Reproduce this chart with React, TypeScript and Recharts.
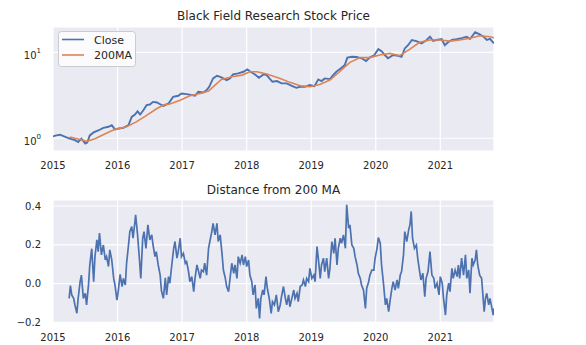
import { CartesianGrid, Line, LineChart, XAxis, YAxis } from "recharts";

const yearTicks = [2015, 2016, 2017, 2018, 2019, 2020, 2021];
const priceTicks = [1, 10];
const distTicks = [-0.2, 0, 0.2, 0.4];

const closeYears = [
  2015.0, 2015.05, 2015.11, 2015.19, 2015.26, 2015.34, 2015.39, 2015.44, 2015.5, 2015.53,
  2015.57, 2015.63, 2015.71, 2015.78, 2015.86, 2015.91, 2015.96, 2016.02, 2016.09, 2016.17,
  2016.22, 2016.27, 2016.31, 2016.35, 2016.4, 2016.45, 2016.5, 2016.55, 2016.61, 2016.66,
  2016.71, 2016.79, 2016.86, 2016.94, 2016.99, 2017.07, 2017.15, 2017.2, 2017.25, 2017.33,
  2017.38, 2017.42, 2017.48, 2017.54, 2017.59, 2017.64, 2017.69, 2017.74, 2017.79, 2017.87,
  2017.95, 2018.01, 2018.06, 2018.13, 2018.19, 2018.26, 2018.31, 2018.36, 2018.4, 2018.47,
  2018.54, 2018.62, 2018.7, 2018.77, 2018.83, 2018.9, 2018.98, 2019.05, 2019.11, 2019.16,
  2019.21, 2019.29, 2019.34, 2019.39, 2019.47, 2019.52, 2019.56, 2019.63, 2019.7, 2019.78,
  2019.85, 2019.91, 2019.97, 2020.04, 2020.09, 2020.14, 2020.19, 2020.27, 2020.35, 2020.4,
  2020.45, 2020.5, 2020.56, 2020.63, 2020.71, 2020.79, 2020.84, 2020.89, 2020.94, 2021.02,
  2021.07, 2021.12, 2021.18, 2021.25, 2021.33, 2021.41, 2021.46, 2021.54, 2021.61, 2021.67,
  2021.72, 2021.77, 2021.83,
];
const closeValues = [
  1.05, 1.08, 1.1, 1.035, 0.99, 0.95, 0.905, 0.99, 0.87, 0.89,
  1.08, 1.17, 1.24, 1.32, 1.36, 1.42, 1.27, 1.3, 1.32, 1.42,
  1.77, 1.89, 2.06, 1.89, 2.12, 2.43, 2.47, 2.65, 2.61, 2.49,
  2.38, 2.54, 3.03, 3.12, 3.32, 3.26, 3.18, 3.12, 3.47, 3.41,
  3.63, 3.97, 4.97, 5.33, 5.19, 4.97, 4.75, 4.97, 5.53, 5.69,
  5.94, 6.32, 5.94, 5.53, 5.05, 5.53, 5.43, 4.9, 4.54, 4.63,
  4.35, 4.35, 4.08, 3.86, 3.97, 3.97, 4.16, 4.04, 4.84, 4.63,
  4.97, 4.88, 5.43, 5.94, 6.62, 7.1, 8.67, 8.88, 8.81, 8.52,
  7.92, 8.74, 9.12, 10.9, 10.3, 9.3, 8.52, 9.3, 9.12, 8.88,
  11.1, 12.1, 13.9, 13.5, 12.7, 13.9, 15.2, 13.6, 13.9, 14.3,
  12.1, 13.1, 13.9, 14.2, 14.6, 15.2, 14.3, 17.1, 16.2, 15.2,
  13.9, 14.3, 12.7,
];

const maYears = [
  2015.26, 2015.34, 2015.42, 2015.52, 2015.65, 2015.81, 2015.96, 2016.14, 2016.29, 2016.45,
  2016.61, 2016.72, 2016.81, 2016.97, 2017.12, 2017.28, 2017.41, 2017.51, 2017.61, 2017.77,
  2017.93, 2018.05, 2018.16, 2018.31, 2018.44, 2018.52, 2018.67, 2018.83, 2018.98, 2019.13,
  2019.29, 2019.44, 2019.6, 2019.76, 2019.91, 2020.06, 2020.22, 2020.37, 2020.53, 2020.68,
  2020.84, 2020.99, 2021.15, 2021.3, 2021.46, 2021.61, 2021.77, 2021.83,
];
const maValues = [
  1.035, 1.0, 0.97, 0.92, 0.99, 1.13, 1.27, 1.36, 1.55, 1.85,
  2.22, 2.45, 2.5, 2.77, 3.12, 3.32, 3.54, 4.16, 4.84, 5.19,
  5.43, 5.94, 5.94, 5.6, 5.19, 4.97, 4.47, 4.08, 3.97, 4.23,
  4.75, 5.94, 7.64, 8.67, 8.67, 9.3, 9.72, 9.12, 10.9, 13.1,
  13.9, 13.9, 13.5, 13.9, 14.6, 15.6, 15.2, 14.8,
];

const distYears = [
  2015.25, 2015.27, 2015.29, 2015.32, 2015.34, 2015.37, 2015.39, 2015.42, 2015.44, 2015.47,
  2015.5, 2015.52, 2015.55, 2015.57, 2015.6, 2015.63, 2015.65, 2015.68, 2015.7, 2015.72,
  2015.75, 2015.78, 2015.81, 2015.83, 2015.86, 2015.88, 2015.91, 2015.94, 2015.96, 2015.99,
  2016.01, 2016.04, 2016.07, 2016.09, 2016.12, 2016.14, 2016.17, 2016.19, 2016.22, 2016.24,
  2016.27, 2016.28, 2016.31, 2016.34, 2016.36, 2016.39, 2016.41, 2016.44, 2016.47, 2016.5,
  2016.53, 2016.55, 2016.58, 2016.6, 2016.63, 2016.66, 2016.68, 2016.71, 2016.74, 2016.76,
  2016.79, 2016.81, 2016.84, 2016.87, 2016.89, 2016.92, 2016.94, 2016.97, 2016.99, 2017.02,
  2017.05, 2017.07, 2017.1, 2017.12, 2017.15, 2017.18, 2017.2, 2017.23, 2017.25, 2017.28,
  2017.3, 2017.33, 2017.35, 2017.38, 2017.41, 2017.43, 2017.46, 2017.48, 2017.51, 2017.54,
  2017.56, 2017.59, 2017.62, 2017.64, 2017.67, 2017.69, 2017.72, 2017.74, 2017.77, 2017.8,
  2017.82, 2017.85, 2017.87, 2017.9, 2017.93, 2017.95, 2017.98, 2018.0, 2018.03, 2018.05,
  2018.08, 2018.1, 2018.13, 2018.15, 2018.18, 2018.2, 2018.22, 2018.25, 2018.27, 2018.3,
  2018.32, 2018.35, 2018.38, 2018.4, 2018.43, 2018.46, 2018.49, 2018.52, 2018.54, 2018.57,
  2018.6, 2018.62, 2018.65, 2018.67, 2018.7, 2018.73, 2018.75, 2018.78, 2018.8, 2018.83,
  2018.86, 2018.88, 2018.91, 2018.93, 2018.96, 2018.98, 2019.01, 2019.04, 2019.06, 2019.09,
  2019.11, 2019.14, 2019.16, 2019.19, 2019.21, 2019.24, 2019.27, 2019.29, 2019.32, 2019.35,
  2019.37, 2019.4, 2019.42, 2019.45, 2019.47, 2019.5, 2019.53, 2019.55, 2019.58, 2019.6,
  2019.63, 2019.66, 2019.68, 2019.71, 2019.73, 2019.76, 2019.78, 2019.81, 2019.84, 2019.86,
  2019.89, 2019.91, 2019.94, 2019.97, 2019.99, 2020.02, 2020.04, 2020.07, 2020.09, 2020.12,
  2020.15, 2020.17, 2020.2, 2020.22, 2020.25, 2020.27, 2020.3, 2020.33, 2020.35, 2020.38,
  2020.4, 2020.43, 2020.45, 2020.48, 2020.51, 2020.53, 2020.55, 2020.57, 2020.6, 2020.63,
  2020.65, 2020.68, 2020.7, 2020.73, 2020.76, 2020.78, 2020.81, 2020.84, 2020.87, 2020.9,
  2020.92, 2020.95, 2020.98, 2021.0, 2021.03, 2021.05, 2021.08, 2021.1, 2021.13, 2021.15,
  2021.18, 2021.2, 2021.23, 2021.26, 2021.28, 2021.3, 2021.33, 2021.36, 2021.39, 2021.41,
  2021.44, 2021.46, 2021.49, 2021.51, 2021.54, 2021.56, 2021.58, 2021.61, 2021.64, 2021.66,
  2021.68, 2021.7, 2021.72, 2021.75, 2021.77, 2021.8, 2021.82, 2021.83,
];
const distValues = [
  -0.076, -0.01, -0.058, -0.076, -0.11, -0.153, -0.076, 0.01, 0.044, -0.076,
  -0.05, -0.11, -0.007, 0.096, 0.18, 0.01, 0.139, 0.225, 0.165, 0.26,
  0.148, 0.199, 0.122, 0.139, 0.088, 0.174, 0.122, 0.027, -0.007, -0.085,
  -0.041, 0.048, -0.015, 0.027, -0.007, 0.105, 0.199, 0.268, 0.294, 0.234,
  0.32, 0.355, 0.251, 0.122, 0.027, 0.234, 0.268, 0.182, 0.303, 0.225,
  0.251, 0.199, 0.139, 0.165, 0.096, 0.044, -0.037, -0.076, 0.03, -0.058,
  0.036, 0.002, 0.096, 0.182, 0.217, 0.131, 0.165, 0.234, 0.139, 0.156,
  0.105, 0.113, 0.062, 0.01, 0.036, -0.041, 0.027, 0.096, 0.07, 0.027,
  0.07, 0.062, 0.105, 0.044, 0.182, 0.217, 0.268, 0.311, 0.251, 0.311,
  0.217, 0.251, 0.148, 0.07, 0.027, -0.015, -0.041, 0.019, 0.105, 0.053,
  0.096, 0.027, 0.139, 0.105, 0.148, 0.096, 0.139, 0.088, 0.122, 0.044,
  0.01, -0.058, -0.007, -0.128, -0.076, -0.179, -0.076, -0.033, -0.058, 0.036,
  -0.024, -0.076, -0.153, -0.093, -0.11, -0.058, -0.145, -0.11, -0.067, -0.015,
  -0.076, -0.11, -0.058, -0.119, -0.076, -0.033, -0.076, -0.05, -0.093, -0.015,
  -0.007, 0.019, -0.015, 0.027, 0.01, 0.079, 0.027, 0.044, 0.01, 0.191,
  0.131, 0.027, 0.096, 0.131, 0.062, 0.131, 0.027, 0.079, 0.217, 0.156,
  0.234, 0.096, 0.182, 0.234, 0.208, 0.251, 0.182, 0.406, 0.286, 0.303,
  0.199, 0.182, 0.139, 0.096, 0.053, 0.027, -0.007, -0.033, -0.128, -0.024,
  0.01, 0.044, 0.07, 0.07, 0.131, 0.182, 0.237, 0.208, 0.096, 0.0,
  -0.11, -0.076, -0.145, -0.093, -0.024, 0.01, -0.033, 0.019, -0.024, 0.044,
  0.062, 0.148, 0.268, 0.217, 0.277, 0.303, 0.372, 0.234, 0.182, 0.199,
  0.131, 0.062, 0.019, 0.053, -0.067, 0.027, 0.062, 0.165, 0.044, 0.027,
  -0.024, 0.002, -0.058, 0.036, 0.002, -0.076, -0.162, -0.058, 0.002, -0.041,
  0.079, 0.027, 0.07, 0.036, 0.096, 0.027, 0.131, 0.044, 0.148, 0.027,
  0.07, -0.05, 0.131, 0.096, 0.122, 0.174, 0.096, 0.044, 0.027, -0.058,
  -0.145, -0.076, -0.05, -0.11, -0.076, -0.128, -0.162, -0.128,
];

const closeData = closeYears.map((x, i) => ({ x, y: closeValues[i] }));
const maData = maYears.map((x, i) => ({ x, y: maValues[i] }));
const distData = distYears.map((x, i) => ({ x, y: distValues[i] }));

const BLUE = "#4C72B0";
const ORANGE = "#DD8452";
const TEXT = "#262626";
const FONT = "DejaVu Sans";
const X_DOMAIN = [2015, 2021.832];

const XTick = (props: any) => (
  <text x={props.x} y={props.y + 18} textAnchor="middle" fontSize={10} fill={TEXT} fontFamily={FONT}>
    {props.payload.value}
  </text>
);

const LogTick = (props: any) => (
  <text x={props.x - 12} y={props.y + 7} textAnchor="end" fontSize={10} fill={TEXT} fontFamily={FONT}>
    <tspan>10</tspan>
    <tspan dy={-6} fontSize={7}>
      {Math.round(Math.log10(props.payload.value))}
    </tspan>
  </text>
);

const DistTick = (props: any) => {
  const v = props.payload.value;
  const label = v < 0 ? "\u2212" + Math.abs(v).toFixed(1) : v.toFixed(1);
  return (
    <text x={props.x - 12} y={props.y + 3.6} textAnchor="end" fontSize={10} fill={TEXT} fontFamily={FONT}>
      {label}
    </text>
  );
};

const titleStyle: any = {
  position: "absolute",
  left: 53,
  width: 441,
  textAlign: "center",
  fontFamily: FONT,
  fontSize: 12,
  lineHeight: "14px",
  color: TEXT,
};

export default function App() {
  return (
    <div style={{ position: "absolute", left: 0, top: 0, width: 586, height: 345, background: "#fff" }}>
      <div style={{ ...titleStyle, top: 9 }}>Black Field Research Stock Price</div>
      <div style={{ position: "absolute", left: 0, top: 0 }}>
        <LineChart width={586} height={172} margin={{ top: 27, right: 92, bottom: 0, left: 0 }}>
          <CartesianGrid stroke="#fff" strokeWidth={1.2} fill="#EAEAF2" fillOpacity={1} />
          <XAxis
            dataKey="x"
            type="number"
            domain={X_DOMAIN}
            allowDataOverflow
            ticks={yearTicks}
            height={21}
            axisLine={false}
            tickLine={false}
            tickSize={0}
            tickMargin={0}
            tick={XTick}
          />
          <YAxis
            dataKey="y"
            scale="log"
            type="number"
            domain={[0.711, 19.7]}
            allowDataOverflow
            ticks={priceTicks}
            width={53}
            axisLine={false}
            tickLine={false}
            tickSize={0}
            tickMargin={0}
            tick={LogTick}
          />
          <Line data={closeData} dataKey="y" stroke={BLUE} strokeWidth={1.9} dot={false} isAnimationActive={false} />
          <Line data={maData} dataKey="y" stroke={ORANGE} strokeWidth={1.6} dot={false} isAnimationActive={false} />
        </LineChart>
      </div>
      <svg style={{ position: "absolute", left: 0, top: 0 }} width={586} height={172}>
        <rect x={58.5} y={31.5} width={77} height={35} rx={3} fill="#fff" fillOpacity={0.8} stroke="#ccc" />
        <line x1={62} x2={84} y1={39.5} y2={39.5} stroke={BLUE} strokeWidth={1.6} />
        <line x1={62} x2={84} y1={55} y2={55} stroke={ORANGE} strokeWidth={1.6} />
        <text x={94} y={43.5} fontSize={11} fill={TEXT} fontFamily={FONT}>Close</text>
        <text x={94} y={59} fontSize={11} fill={TEXT} fontFamily={FONT}>200MA</text>
      </svg>
      <div style={{ ...titleStyle, top: 183 }}>Distance from 200 MA</div>
      <div style={{ position: "absolute", left: 0, top: 172 }}>
        <LineChart width={586} height={173} margin={{ top: 28, right: 92, bottom: 0, left: 0 }}>
          <CartesianGrid stroke="#fff" strokeWidth={1.2} fill="#EAEAF2" fillOpacity={1} />
          <XAxis
            dataKey="x"
            type="number"
            domain={X_DOMAIN}
            allowDataOverflow
            ticks={yearTicks}
            height={22}
            axisLine={false}
            tickLine={false}
            tickSize={0}
            tickMargin={0}
            tick={XTick}
          />
          <YAxis
            dataKey="y"
            type="number"
            domain={[-0.203, 0.431]}
            allowDataOverflow
            ticks={distTicks}
            width={53}
            axisLine={false}
            tickLine={false}
            tickSize={0}
            tickMargin={0}
            tick={DistTick}
          />
          <Line data={distData} dataKey="y" stroke={BLUE} strokeWidth={1.7} dot={false} isAnimationActive={false} />
        </LineChart>
      </div>
    </div>
  );
}
